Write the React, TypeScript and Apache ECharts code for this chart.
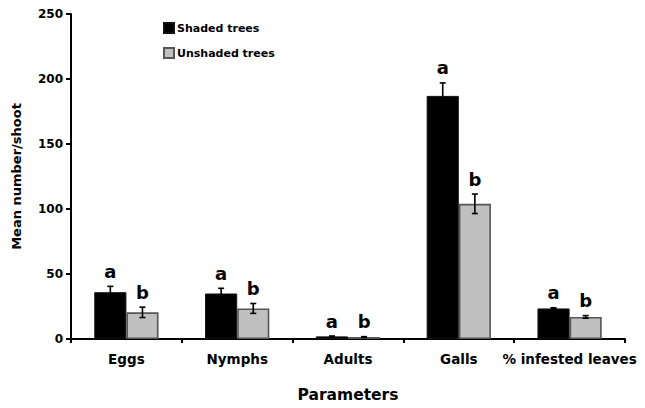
import React, { useEffect, useRef } from "react";
import * as echarts from "echarts";

const categories = ["Eggs", "Nymphs", "Adults", "Galls", "% infested leaves"];
const seriesNames = ["Shaded trees", "Unshaded trees"];
const shadedMean = [36, 35, 2, 187, 23.5];
const shadedErr = [4.5, 4, 0.3, 10, 0.5];
const unshadedMean = [20.5, 23.5, 1.5, 104, 17];
const unshadedErr = [4, 3.8, 0.3, 7.5, 1];
const shadedLetters = ["a", "a", "a", "a", "a"];
const unshadedLetters = ["b", "b", "b", "b", "b"];
const yTicks = { min: 0, max: 250, interval: 50 };

const FONT = "DejaVu Sans";
const BAR_FRAC = 0.29;

export default function App() {
  const ref = useRef<HTMLDivElement>(null);

  useEffect(() => {
    if (!ref.current) return;
    const chart = echarts.init(ref.current, null, { renderer: "svg" });

    const errSeries = (means: number[], errs: number[], sign: number) => ({
      type: "custom",
      z: 5,
      silent: true,
      data: means.map((m, i) => [i, m, errs[i]]),
      renderItem: (params: any, api: any) => {
        const i = api.value(0);
        const m = api.value(1);
        const e = api.value(2);
        const band = api.size([1, 0])[0];
        const off = (band * BAR_FRAC) / 2 * sign;
        const top = api.coord([i, m + e]);
        const bot = api.coord([i, m - e]);
        const x = top[0] + off;
        const cap = 3;
        const style = { stroke: "#000", lineWidth: 1.6 };
        return {
          type: "group",
          children: [
            { type: "line", shape: { x1: x, y1: top[1], x2: x, y2: bot[1] }, style },
            { type: "line", shape: { x1: x - cap, y1: top[1], x2: x + cap, y2: top[1] }, style },
            { type: "line", shape: { x1: x - cap, y1: bot[1], x2: x + cap, y2: bot[1] }, style },
          ],
        };
      },
    });

    const letterSeries = (means: number[], errs: number[], letters: string[], sign: number) => ({
      type: "custom",
      z: 6,
      silent: true,
      data: means.map((m, i) => [i, m + errs[i]]),
      renderItem: (params: any, api: any) => {
        const i = api.value(0);
        const t = api.value(1);
        const band = api.size([1, 0])[0];
        const off = (band * BAR_FRAC) / 2 * sign;
        const p = api.coord([i, t]);
        return {
          type: "text",
          x: p[0] + off,
          y: p[1] - 6,
          style: {
            text: letters[params.dataIndex],
            fill: "#000",
            font: `bold 18px "${FONT}"`,
            align: "center",
            verticalAlign: "bottom",
          },
        };
      },
    });

    chart.setOption({
      animation: false,
      textStyle: { fontFamily: FONT },
      grid: { left: 71, right: 20, top: 14, bottom: 59 },
      legend: {
        data: seriesNames,
        orient: "vertical",
        left: 158,
        top: 17,
        icon: "rect",
        itemWidth: 10,
        itemHeight: 10,
        itemGap: 13,
        textStyle: { fontFamily: FONT, fontWeight: "bold", fontSize: 11, color: "#000", padding: [0, 0, 0, -2] },
      },
      xAxis: {
        type: "category",
        data: categories,
        name: "Parameters",
        nameLocation: "middle",
        nameGap: 48,
        nameTextStyle: { fontFamily: FONT, fontWeight: "bold", fontSize: 15.5, color: "#000" },
        axisLine: { lineStyle: { color: "#000", width: 2 } },
        axisTick: { show: true, length: 4, lineStyle: { color: "#000", width: 2 } },
        axisLabel: { fontFamily: FONT, fontWeight: "bold", fontSize: 13.5, color: "#000", margin: 13, interval: 0 },
      },
      yAxis: {
        type: "value",
        min: yTicks.min,
        max: yTicks.max,
        interval: yTicks.interval,
        name: "Mean number/shoot",
        nameLocation: "middle",
        nameGap: 48,
        nameTextStyle: { fontFamily: FONT, fontWeight: "bold", fontSize: 13, color: "#000" },
        axisLine: { show: true, lineStyle: { color: "#000", width: 2 } },
        axisTick: { show: true, length: 5, lineStyle: { color: "#000", width: 2 } },
        axisLabel: { fontFamily: FONT, fontWeight: "bold", fontSize: 12, color: "#000", margin: 8 },
        splitLine: { show: false },
      },
      series: [
        {
          name: seriesNames[0],
          type: "bar",
          data: shadedMean,
          barWidth: `${BAR_FRAC * 100}%`,
          barGap: "0%",
          itemStyle: { color: "#000", borderColor: "#111", borderWidth: 1 },
        },
        {
          name: seriesNames[1],
          type: "bar",
          data: unshadedMean,
          barWidth: `${BAR_FRAC * 100}%`,
          barGap: "0%",
          itemStyle: { color: "#c0c0c0", borderColor: "#555", borderWidth: 1.6 },
        },
        errSeries(shadedMean, shadedErr, -1),
        errSeries(unshadedMean, unshadedErr, 1),
        letterSeries(shadedMean, shadedErr, shadedLetters, -1),
        letterSeries(unshadedMean, unshadedErr, unshadedLetters, 1),
      ],
    });

    return () => chart.dispose();
  }, []);

  return (
    <div
      ref={ref}
      style={{ position: "fixed", left: 0, top: 0, width: 645, height: 408, background: "#fff" }}
    />
  );
}
